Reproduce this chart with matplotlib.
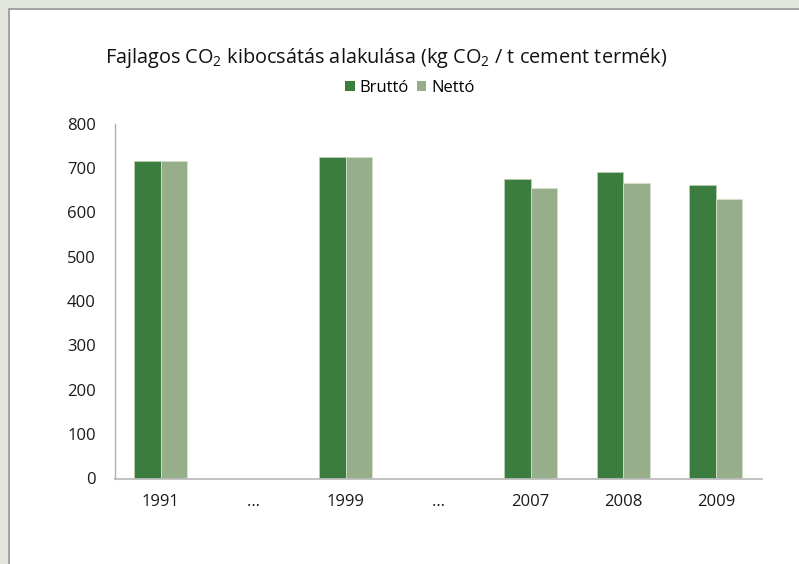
import numpy as np
import matplotlib
matplotlib.use("Agg")
import matplotlib.pyplot as plt
from matplotlib.patches import Rectangle, Patch

plt.rcParams['font.family'] = ['Open Sans', 'DejaVu Sans']
plt.rcParams['mathtext.fontset'] = 'custom'
plt.rcParams['mathtext.rm'] = 'Open Sans'
plt.rcParams['mathtext.default'] = 'rm'

categories = ['1991', '…', '1999', '…', '2007', '2008', '2009']
brutto = [716, np.nan, 725, np.nan, 676, 690, 662]
netto = [716, np.nan, 725, np.nan, 655, 665, 629]
series_names = ['Bruttó', 'Nettó']
title = 'Fajlagos CO$_2$ kibocsátás alakulása (kg CO$_2$ / t cement termék)'

c_dark = '#3b7d3e'
c_light = '#96ae89'

fig = plt.figure(figsize=(7.99, 5.64), dpi=100)
fig.patch.set_facecolor('#e3e6dd')
fig.patches.append(Rectangle((9.0 / 799, -0.1), 1.2, 1 - 9.0 / 564 + 0.1,
                             transform=fig.transFigure, facecolor='white',
                             edgecolor='#9c9c9c', linewidth=1.3, zorder=-10))

ax = fig.add_axes([114.5 / 799, 1 - 478.5 / 564, (762 - 114.5) / 799, (478.5 - 123.6) / 564])
ax.set_facecolor('none')
x = np.arange(len(categories))
w = 0.287
ax.bar(x - w / 2, brutto, width=w, color=c_dark, edgecolor='#b9d0b0', linewidth=0.6)
ax.bar(x + w / 2, netto, width=w, color=c_light, edgecolor='#d4e0cc', linewidth=0.6)

ax.set_xlim(-0.5, len(categories) - 0.5)
ax.set_ylim(0, 800)
ax.set_yticks(np.arange(0, 801, 100))
ax.set_xticks(x)
ax.set_xticklabels(categories, fontsize=12, color='#1a1a1a')
ax.tick_params(axis='y', length=0, pad=13.5, labelsize=12, labelcolor='#1a1a1a')
ax.tick_params(axis='x', length=0, pad=11)
for s in ['top', 'right']:
    ax.spines[s].set_visible(False)
ax.spines['left'].set_color('#b0b0b0')
ax.spines['bottom'].set_color('#bcbcbc')
ax.spines['left'].set_linewidth(1.0)
ax.spines['bottom'].set_linewidth(1.3)

fig.text(386 / 799, 1 - 58 / 564, title, ha='center', va='center', fontsize=14.3, color='#111111')

handles = [Patch(facecolor=c_dark, edgecolor='none'), Patch(facecolor=c_light, edgecolor='none')]
fig.legend(handles, series_names, loc='center', bbox_to_anchor=(410 / 799, 1 - 88 / 564),
           ncol=2, frameon=False, fontsize=12, handlelength=0.55, handleheight=0.55,
           handletextpad=0.3, columnspacing=0.5)

fig.savefig('out.png', dpi=100, facecolor=fig.get_facecolor())
